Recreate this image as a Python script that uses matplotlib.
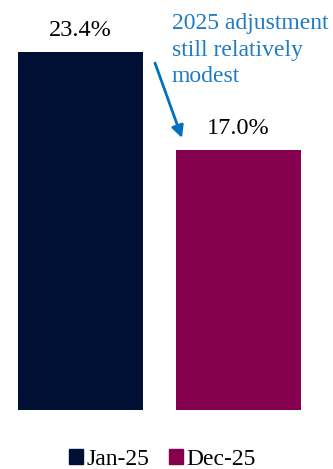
import matplotlib
matplotlib.use("Agg")
import matplotlib.pyplot as plt
from matplotlib.patches import Patch

plt.rcParams['font.family'] = ['Liberation Serif', 'DejaVu Serif']

labels = ['Jan-25', 'Dec-25']
values = [23.4, 17.0]
colors = ['#001035', '#860050']
note = '2025 adjustment\nstill relatively\nmodest'

fig = plt.figure(figsize=(3.33, 4.69), dpi=100)
ax = fig.add_axes([1.5 / 333, 59 / 469, 316 / 333, 358 / 469])

x = range(len(values))
ax.bar(x, values, width=125 / 158, color=colors)
for i, v in zip(x, values):
    ax.text(i, v + 1.05, f'{v:.1f}%', ha='center', va='baseline', fontsize=17.5, clip_on=False)

ax.set_xlim(-0.5, 1.5)
ax.set_ylim(0, 23.4)
ax.axis('off')

# annotation text + arrow (baseline of last line)
fig.text(172 / 333, 1 - 82 / 469, note, ha='left', va='baseline', fontsize=17,
         color='#1f7bc4', linespacing=1.33, multialignment='left')
ax.annotate('', xy=(182 / 333, 1 - 138 / 469), xycoords='figure fraction',
            xytext=(155 / 333, 1 - 63 / 469), textcoords='figure fraction',
            arrowprops=dict(arrowstyle='-|>', color='#0070c0', lw=2,
                            mutation_scale=18, shrinkA=0, shrinkB=0))

handles = [Patch(color=c) for c in colors]
fig.legend(handles, labels, loc='lower center', bbox_to_anchor=(0.488, -0.047), ncol=2,
           frameon=False, fontsize=17, handlelength=0.6, handleheight=0.6,
           handletextpad=0.13, columnspacing=0.85)

fig.savefig('out.png', dpi=100)
